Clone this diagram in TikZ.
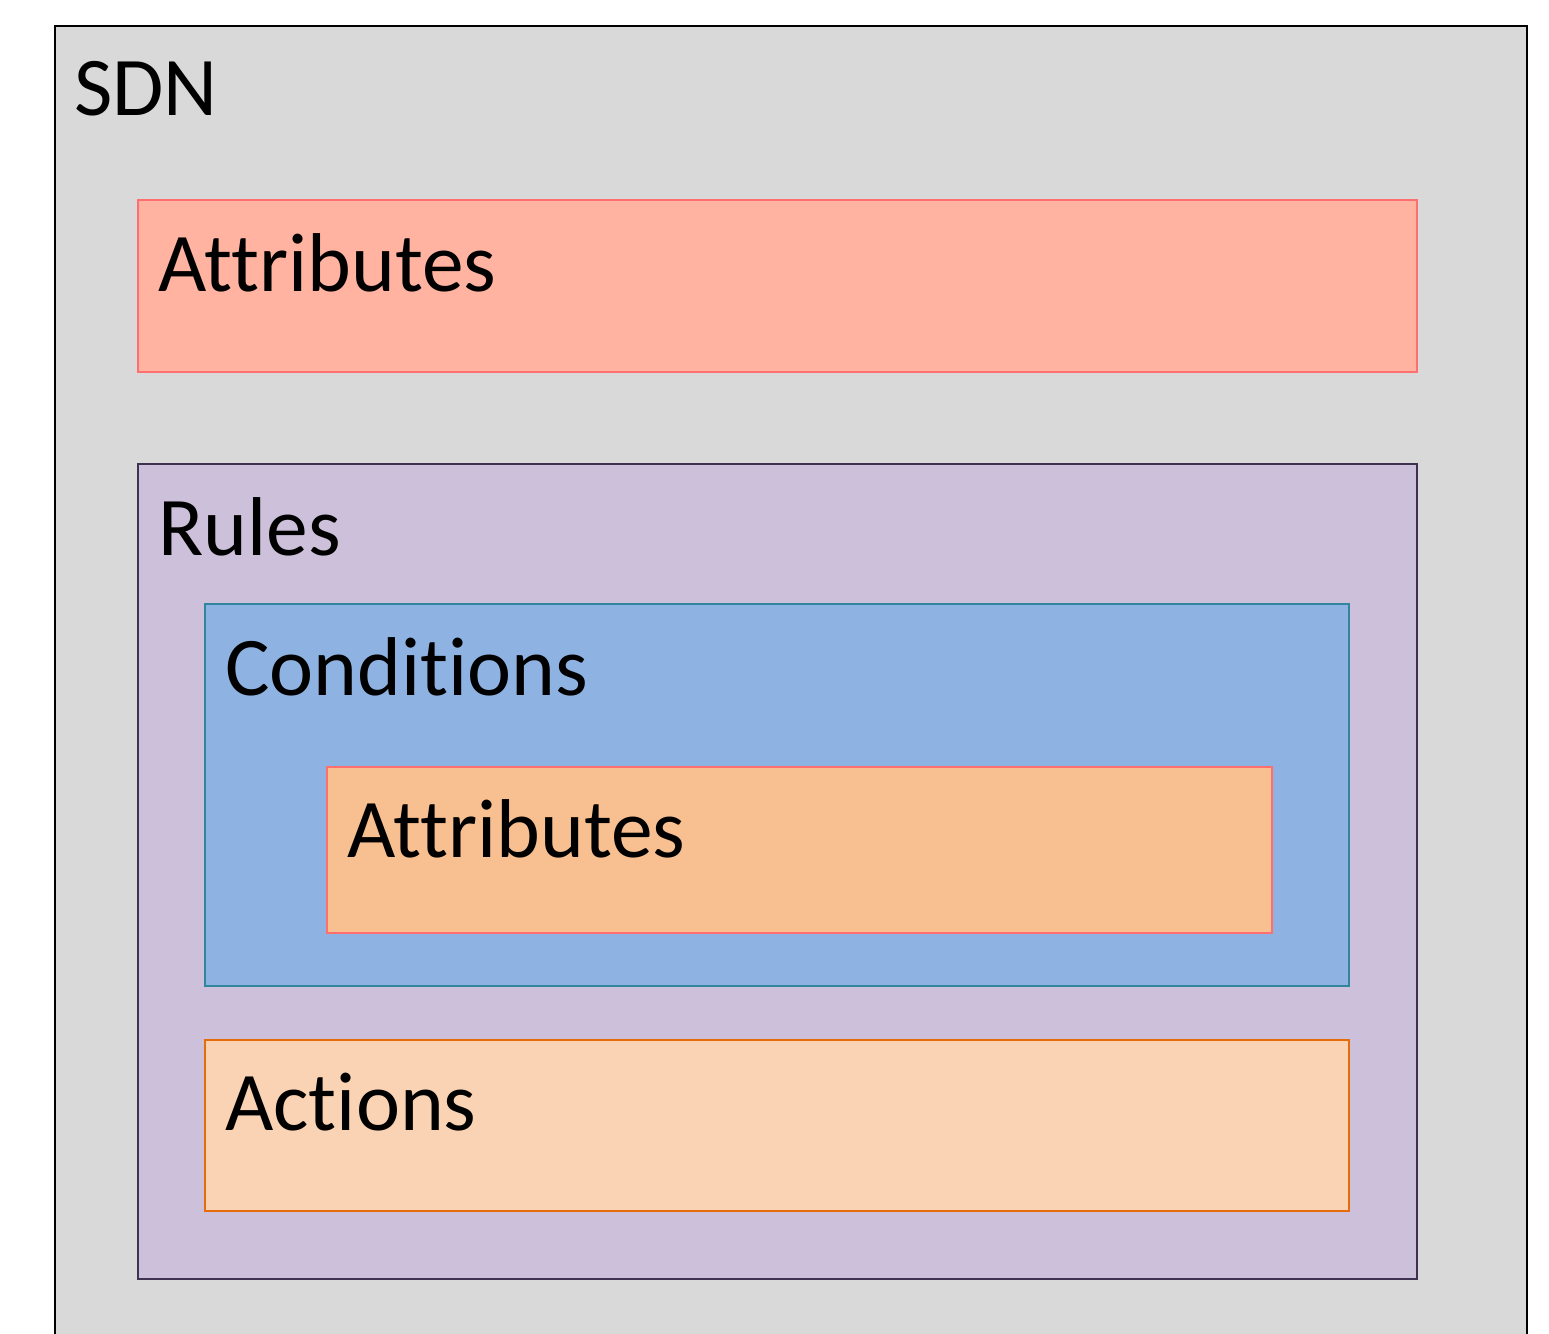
\documentclass[tikz,border=0pt]{standalone}
\usepackage{fontspec}
\setmainfont[Ligatures={NoCommon}]{Carlito}
\usepackage{tikz}
\usetikzlibrary{positioning}
\definecolor{sdnfill}{HTML}{D9D9D9}
\definecolor{attrfill}{HTML}{FFB3A0}
\definecolor{attrline}{HTML}{FF6F6F}
\definecolor{rulefill}{HTML}{CCC0DA}
\definecolor{ruleline}{HTML}{3F3151}
\definecolor{condfill}{HTML}{8EB3E2}
\definecolor{condline}{HTML}{31859C}
\definecolor{cattrfill}{HTML}{F8BF90}
\definecolor{actfill}{HTML}{FAD3B4}
\definecolor{actline}{HTML}{E46C0A}

\begin{document}
\begin{tikzpicture}[x=0.02cm,y=-0.02cm,
  box/.style={rectangle,inner sep=0pt,outer sep=0pt,line width=1.1pt,anchor=north west},
  lbl/.style={inner sep=0pt,anchor=base west,font=\fontsize{47.5}{56}\selectfont}]

  \useasboundingbox (0,0) rectangle (1549,1333);

  % Rahmen
  \node[box,draw=black,fill=sdnfill,minimum width=29.44cm,minimum height=26.8cm] (SDN) at (55,26) {};
  \node[lbl] (SDNl) at ([shift={(19,89)}]SDN.north west) {SDN};

  % 1. Ebene
  \node[box,draw=attrline,fill=attrfill,minimum width=25.58cm,minimum height=3.44cm] (Attr) at (138,200) {};
  \node[lbl] (Attrl) at ([shift={(20,91)}]Attr.north west) {Attributes};
  \node[box,draw=ruleline,fill=rulefill,minimum width=25.58cm,minimum height=16.3cm] (Rules) at (138,464) {};
  \node[lbl] (Rulesl) at ([shift={(20,91)}]Rules.north west) {Rules};

  % 2. Ebene
  \node[box,draw=condline,fill=condfill,minimum width=22.88cm,minimum height=7.64cm] (Cond) at (205,604) {};
  \node[lbl] (Condl) at ([shift={(20,91)}]Cond.north west) {Conditions};
  \node[box,draw=attrline,fill=cattrfill,minimum width=18.9cm,minimum height=3.32cm] (CAttr) at (327,767) {};
  \node[lbl] (CAttrl) at ([shift={(20,90)}]CAttr.north west) {Attributes};
  \node[box,draw=actline,fill=actfill,minimum width=22.88cm,minimum height=3.42cm] (Act) at (205,1040) {};
  \node[lbl] (Actl) at ([shift={(20,90)}]Act.north west) {Actions};

\end{tikzpicture}
\end{document}
